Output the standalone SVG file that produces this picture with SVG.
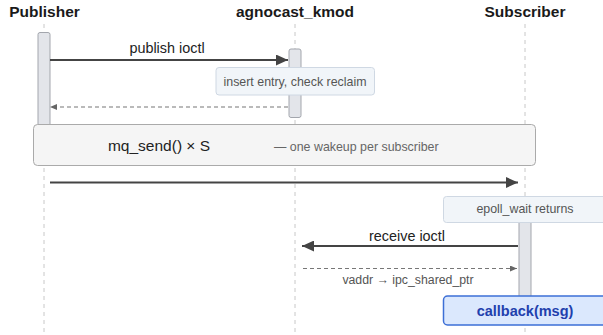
<svg xmlns="http://www.w3.org/2000/svg" width="603" height="335" viewBox="0 0 603 335">
  <style>
    .hdr { font-family: "Liberation Sans", Arial, sans-serif; font-weight: bold; font-size: 15.5px; fill: #1a1a1a; text-anchor: middle; }
    .life { stroke: #c8c8c8; stroke-width: 1; stroke-dasharray: 4 4; fill: none; }
    .act { fill: #e3e5ea; stroke: #a3a6ad; stroke-width: 1; }
    .msg { stroke: #444; stroke-width: 1.8; fill: none; }
    .ret { stroke: #777; stroke-width: 1.2; stroke-dasharray: 4 3; fill: none; }
    .lbl { font-family: "Liberation Sans", Arial, sans-serif; font-size: 14.4px; fill: #222; text-anchor: middle; }
    .small { font-family: "Liberation Sans", Arial, sans-serif; font-size: 12.3px; fill: #555; text-anchor: middle; }
    .note { fill: #f1f5f9; stroke: #cfd8e3; stroke-width: 1; }
    .notetxt { font-family: "Liberation Sans", Arial, sans-serif; font-size: 12.4px; fill: #555; text-anchor: middle; }
    .frame { fill: #f5f5f5; stroke: #aaaaaa; stroke-width: 1; }
    .cb { fill: #dbe8fd; stroke: #3d6fd6; stroke-width: 1.5; }
    .cbtxt { font-family: "Liberation Sans", Arial, sans-serif; font-weight: bold; font-size: 14.5px; fill: #1f40ad; text-anchor: middle; }
  </style>
  <defs>
    <marker id="ah" viewBox="0 0 12 11" refX="12" refY="5.5" markerWidth="12" markerHeight="11" markerUnits="userSpaceOnUse" orient="auto">
      <path d="M0,0 L12,5.5 L0,11 Z" fill="#444"/>
    </marker>
    <marker id="ahs" viewBox="0 0 7 6" refX="7" refY="3" markerWidth="7" markerHeight="6" markerUnits="userSpaceOnUse" orient="auto">
      <path d="M0,0 L7,3 L0,6 Z" fill="#666"/>
    </marker>
  </defs>

  <g id="lifelines">
    <line class="life" x1="44" y1="24" x2="44" y2="335"/>
    <line class="life" x1="295" y1="24" x2="295" y2="335"/>
    <line class="life" x1="525" y1="24" x2="525" y2="335"/>
  </g>

  <g id="publisher">
    <text class="hdr" x="44.5" y="17">Publisher</text>
    <rect class="act" x="38" y="32.5" width="12" height="110" rx="2"/>
  </g>
  <g id="agnocast_kmod">
    <text class="hdr" x="295" y="17">agnocast_kmod</text>
    <rect class="act" x="289" y="49" width="12" height="68.5" rx="2"/>
  </g>
  <g id="subscriber">
    <text class="hdr" x="525" y="17">Subscriber</text>
    <rect class="act" x="519" y="215" width="12" height="90" rx="0"/>
  </g>

  <g id="connectors">
    <line class="msg" x1="50" y1="60" x2="288" y2="60" marker-end="url(#ah)"/>
    <text class="lbl" x="167" y="53">publish ioctl</text>
    <line class="ret" x1="288" y1="107" x2="50" y2="107" marker-end="url(#ahs)"/>
    <line class="msg" x1="50" y1="182.5" x2="518" y2="182.5" marker-end="url(#ah)"/>
    <line class="msg" x1="518" y1="246" x2="302" y2="246" marker-end="url(#ah)"/>
    <text class="lbl" x="407" y="241">receive ioctl</text>
    <line class="ret" x1="303" y1="268.5" x2="517" y2="268.5" marker-end="url(#ahs)"/>
    <text class="small" x="408" y="283.5">vaddr → ipc_shared_ptr</text>
  </g>

  <g id="note_insert">
    <rect class="note" x="216" y="67.5" width="158.5" height="27.5" rx="3"/>
    <text class="notetxt" x="295" y="85.5">insert entry, check reclaim</text>
  </g>

  <g id="mq_send">
    <rect class="frame" x="33.5" y="124.5" width="502" height="41" rx="4"/>
    <text class="lbl" style="font-size:15.5px" x="159" y="151">mq_send() × S</text>
    <text class="notetxt" style="text-anchor:start;fill:#666" x="274" y="151">— one wakeup per subscriber</text>
  </g>

  <g id="note_epoll">
    <rect class="note" x="443.5" y="196.5" width="165" height="26" rx="3"/>
    <text class="notetxt" x="525" y="213">epoll_wait returns</text>
  </g>

  <g id="callback">
    <rect class="cb" x="443.5" y="296" width="165" height="29" rx="4"/>
    <text class="cbtxt" x="525" y="316">callback(msg)</text>
  </g>
</svg>
